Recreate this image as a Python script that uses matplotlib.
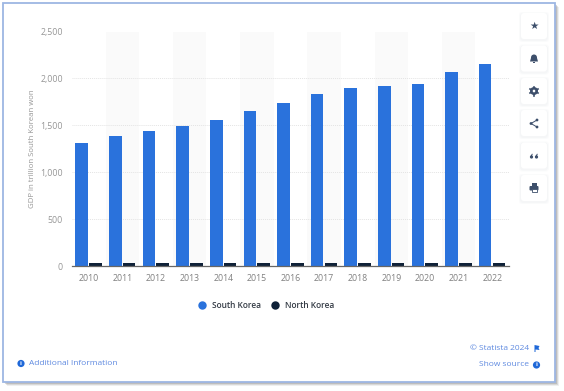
"""GDP of South Korea and North Korea, Statista style bar chart."""
import matplotlib
matplotlib.use("Agg")
import matplotlib.pyplot as plt
from matplotlib.patches import Circle, FancyBboxPatch, Polygon, Rectangle

years = ["2010", "2011", "2012", "2013", "2014", "2015", "2016",
         "2017", "2018", "2019", "2020", "2021", "2022"]
south_korea = [1314, 1383, 1437, 1496, 1555, 1650, 1735, 1833, 1893, 1915, 1936, 2072, 2155]
north_korea = [30, 31, 32, 33, 35, 34, 36, 36, 36, 35, 35, 36, 36]
y_ticks = [0, 500, 1000, 1500, 2000, 2500]

BLUE = "#2a72dc"
DARK = "#0f2138"
W, H = 564, 391

plt.rcParams["font.family"] = ["Open Sans", "DejaVu Sans"]
fig = plt.figure(figsize=(W / 100, H / 100), dpi=100, facecolor="white")

# page layer in pixel coordinates: frame, buttons, footer
bg = fig.add_axes([0, 0, 1, 1], zorder=0)
bg.set_xlim(0, W)
bg.set_ylim(H, 0)
bg.axis("off")
for off, alpha in [(4, 0.12), (3, 0.2), (2, 0.3)]:
    bg.add_patch(Rectangle((3 + off, 3 + off), 552, 379, fc="#808080", ec="none", alpha=alpha))
bg.add_patch(Rectangle((3, 3), 552, 379, fc="white", ec="#9db6e3", lw=1.3))

for top in [13, 45.5, 78, 110, 142.5, 175]:
    for grow, alpha in [(2, 0.25), (1, 0.4)]:
        bg.add_patch(FancyBboxPatch((521 - grow, top - grow + 1), 26 + 2 * grow, 26 + 2 * grow,
                                    boxstyle="round,pad=0,rounding_size=3",
                                    fc="#eef0f3", ec="none", alpha=alpha))
    bg.add_patch(FancyBboxPatch((521, top), 26, 26, boxstyle="round,pad=0,rounding_size=3",
                                fc="white", ec="none"))

ICON = "#3d4f6b"
bg.text(534, 26, "★", color=ICON, fontsize=7.5, ha="center", va="center", family="DejaVu Sans")
# bell
bg.add_patch(Circle((534, 57.5), 3, fc=ICON, ec="none"))
bg.add_patch(Polygon([(531, 58), (537, 58), (538, 61.5), (530, 61.5)], fc=ICON, ec="none"))
bg.add_patch(Rectangle((533, 61.5), 2, 1.3, fc=ICON, ec="none"))
# gear
bg.add_patch(Circle((534, 91), 2.8, fc="none", ec=ICON, lw=1.7))
bg.plot([534, 534], [86.5, 95.5], color=ICON, lw=1.2, zorder=1)
bg.plot([530, 538], [89, 93], color=ICON, lw=1.2, zorder=1)
bg.plot([530, 538], [93, 89], color=ICON, lw=1.2, zorder=1)
bg.add_patch(Circle((534, 91), 1.3, fc="white", ec="none", zorder=3))
# share
for cx, cy in [(537, 120), (531, 123.5), (537, 127)]:
    bg.add_patch(Circle((cx, cy), 1.4, fc=ICON, ec="none"))
bg.plot([537, 531, 537], [120, 123.5, 127], color=ICON, lw=0.7)
# quote
for cx in [531.5, 536.5]:
    bg.add_patch(Circle((cx, 157), 1.6, fc=ICON, ec="none"))
    bg.add_patch(Polygon([(cx - 1.6, 157), (cx + 0.6, 153.5), (cx + 1.2, 154.3), (cx, 157)],
                         fc=ICON, ec="none"))
# print
bg.add_patch(FancyBboxPatch((529.5, 186), 9, 4.5, boxstyle="round,pad=0,rounding_size=1",
                            fc=ICON, ec="none"))
bg.add_patch(Rectangle((531.5, 183), 5, 2.5, fc=ICON, ec="none"))
bg.add_patch(Rectangle((531.5, 189), 5, 3.2, fc="white", ec=ICON, lw=0.6))

# legend
bg.add_patch(Circle((202.5, 305.5), 4.2, fc=BLUE, ec="none"))
bg.text(212, 305.5, "South Korea", color="#333a44", fontsize=6, fontweight="semibold", va="center")
bg.add_patch(Circle((275.5, 305.5), 4.2, fc=DARK, ec="none"))
bg.text(285, 305.5, "North Korea", color="#333a44", fontsize=6, fontweight="semibold", va="center")

# footer
LINK = "#5f8ae0"
bg.add_patch(Circle((21, 363.5), 3.6, fc="#1f68d8", ec="none"))
bg.text(21, 363.5, "i", color="white", fontsize=4.5, fontweight="bold", ha="center", va="center")
bg.text(29, 363.5, "Additional Information", color=LINK, fontsize=6.05, va="center")
bg.text(529, 348, "© Statista 2024", color=LINK, fontsize=6.05, ha="right", va="center")
bg.add_patch(Polygon([(534.5, 345), (539.5, 346), (538.5, 348), (539.5, 350), (535.5, 349.5),
                      (535.5, 352), (534.5, 352)], fc="#1f68d8", ec="none"))
bg.text(529, 365, "Show source", color=LINK, fontsize=6.05, ha="right", va="center")
bg.add_patch(Circle((536.5, 365), 3.6, fc="#1f68d8", ec="none"))
bg.text(536.5, 365, "i", color="white", fontsize=4.5, fontweight="bold", ha="center", va="center")

# chart
ax = fig.add_axes([72 / W, 1 - 266 / H, (509 - 72) / W, (266 - 31.5) / H], zorder=1)
ax.patch.set_alpha(0)
xs = list(range(len(years)))
for i in xs[1::2]:
    ax.axvspan(i - 0.5, i + 0.5, color="#fafafa", lw=0, zorder=0)
ax.bar([x - 0.21 for x in xs], south_korea, width=0.375, color=BLUE, zorder=3)
ax.bar([x + 0.2 for x in xs], north_korea, width=0.375, color=DARK, zorder=3)

ax.set_xlim(-0.5, len(years) - 0.5)
ax.set_ylim(0, 2500)
ax.set_xticks(xs)
ax.set_xticklabels(years)
ax.set_yticks(y_ticks)
ax.set_yticklabels([f"{v:,}" for v in y_ticks])
ax.tick_params(axis="x", length=0, pad=6, labelsize=6.3, labelcolor="#808080")
ax.tick_params(axis="y", length=0, pad=6.5, labelsize=6.3, labelcolor="#969696")
ax.grid(True, axis="y", color="#e4e4e4", lw=0.7, ls=(0, (1, 1)), zorder=1)
ax.set_axisbelow(True)
for side in ["top", "right", "left"]:
    ax.spines[side].set_visible(False)
ax.spines["bottom"].set_color("#666666")
ax.spines["bottom"].set_linewidth(0.9)
ax.spines["bottom"].set_zorder(4)
ax.set_ylabel("GDP in trillion South Korean won", fontsize=5.6, color="#969696", labelpad=3)

fig.savefig("out.png", dpi=100)
